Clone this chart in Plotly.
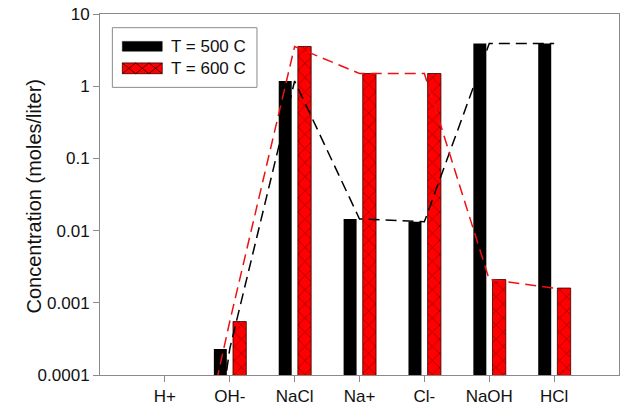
import plotly.graph_objects as go

# ---- data ----
categories = ["H+", "OH-", "NaCl", "Na+", "Cl-", "NaOH", "HCl"]
t500 = [1e-10, 0.00023, 1.18, 0.0145, 0.0133, 3.9, 3.9]
t600 = [5e-8, 0.00055, 3.55, 1.5, 1.5, 0.0021, 0.0016]
series_names = ["T = 500 C", "T = 600 C"]
ytick_vals = [0.0001, 0.001, 0.01, 0.1, 1, 10]
ytick_text = ["0.0001", "0.001", "0.01", "0.1", "1", "10"]
y_title = "Concentration (moles/liter)"

W, H = 625, 411
ML, MR, MT, MB = 99.6, 5, 9, 33
PW = W - ML - MR
PH = H - MT - MB

def px(x):
    return (x - ML) / PW

def py(y):
    return (H - MB - y) / PH

FONT = "Liberation Sans, Arial, sans-serif"
RED = "#ff0000"

fig = go.Figure()
fig.add_trace(go.Bar(
    x=categories, y=t500, name=series_names[0],
    offset=-0.245, width=0.2,
    marker=dict(color="black", line=dict(width=0)),
    showlegend=False,
))
fig.add_trace(go.Bar(
    x=categories, y=t600, name=series_names[1],
    offset=0.05, width=0.205,
    marker=dict(color=RED, line=dict(width=0.8, color="#300000"),
                pattern=dict(shape="x", fgcolor="#200000", bgcolor=RED,
                             size=10, solidity=0.14)),
    showlegend=False,
))
fig.add_trace(go.Scatter(
    x=categories, y=t500, mode="lines",
    line=dict(color="black", width=1.5, dash="11px,6px"),
    showlegend=False,
))
fig.add_trace(go.Scatter(
    x=categories, y=t600, mode="lines",
    line=dict(color="#ee1111", width=1.5, dash="11px,6px"),
    showlegend=False,
))

# ---- hand-drawn legend (SigmaPlot style wide swatches) ----
shapes = []
shapes.append(dict(type="rect", xref="paper", yref="paper",
                   x0=px(112), x1=px(257), y0=py(84), y1=py(23),
                   line=dict(color="#8a8a8a", width=1), fillcolor="white"))
shapes.append(dict(type="rect", xref="paper", yref="paper",
                   x0=px(122), x1=px(162), y0=py(47), y1=py(37),
                   line=dict(color="black", width=0.5), fillcolor="black"))
shapes.append(dict(type="rect", xref="paper", yref="paper",
                   x0=px(122), x1=px(162), y0=py(70), y1=py(59),
                   line=dict(color="#300000", width=0.8), fillcolor=RED))
cell = 40 / 3
for i in range(3):
    xa, xb = 122 + cell * i, 122 + cell * (i + 1)
    shapes.append(dict(type="line", xref="paper", yref="paper",
                       x0=px(xa), x1=px(xb), y0=py(59), y1=py(70),
                       line=dict(color="#300000", width=0.8)))
    shapes.append(dict(type="line", xref="paper", yref="paper",
                       x0=px(xa), x1=px(xb), y0=py(70), y1=py(59),
                       line=dict(color="#300000", width=0.8)))

annotations = []
for name, yy in zip(series_names, [42, 64.5]):
    annotations.append(dict(text=name, xref="paper", yref="paper",
                            x=px(169), y=py(yy), xanchor="left", yanchor="middle",
                            showarrow=False, font=dict(size=17, color="#111", family=FONT)))
annotations.append(dict(text=y_title, xref="paper", yref="paper",
                        x=px(33), y=py(195), xanchor="center", yanchor="middle",
                        textangle=-90, showarrow=False,
                        font=dict(size=20, color="#111", family=FONT)))

fig.update_layout(
    width=W, height=H,
    margin=dict(l=ML, r=MR, t=MT, b=MB, pad=0),
    paper_bgcolor="white", plot_bgcolor="white",
    font=dict(family=FONT, size=16, color="#111"),
    barmode="overlay",
    shapes=shapes, annotations=annotations,
    showlegend=False,
)
fig.update_xaxes(
    type="category", range=[-1, 7],
    showline=True, linecolor="#8a8a8a", linewidth=1, mirror=True,
    ticks="outside", ticklen=6, tickcolor="#8a8a8a",
    showgrid=False, zeroline=False,
    tickfont=dict(size=17, color="#111", family=FONT),
)
fig.update_yaxes(
    type="log", range=[-4, 1],
    tickvals=ytick_vals, ticktext=ytick_text,
    showline=True, linecolor="#8a8a8a", linewidth=1, mirror=True,
    ticks="outside", ticklen=6, tickcolor="#8a8a8a",
    showgrid=False, zeroline=False,
    ticklabeloverflow="allow",
    tickfont=dict(size=17, color="#111", family=FONT),
)

fig.write_html("out.html")
